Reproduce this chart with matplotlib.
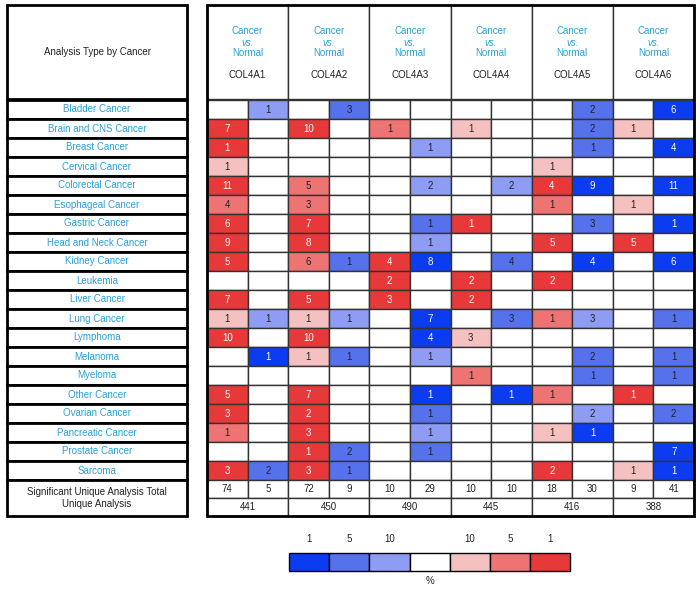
import matplotlib
matplotlib.use("Agg")
import matplotlib.pyplot as plt
from matplotlib.patches import Rectangle

plt.rcParams['font.family'] = ['Liberation Sans', 'DejaVu Sans']

cancers = ["Bladder Cancer", "Brain and CNS Cancer", "Breast Cancer", "Cervical Cancer",
           "Colorectal Cancer", "Esophageal Cancer", "Gastric Cancer", "Head and Neck Cancer",
           "Kidney Cancer", "Leukemia", "Liver Cancer", "Lung Cancer", "Lymphoma", "Melanoma",
           "Myeloma", "Other Cancer", "Ovarian Cancer", "Pancreatic Cancer", "Prostate Cancer",
           "Sarcoma"]
genes = ["COL4A1", "COL4A2", "COL4A3", "COL4A4", "COL4A5", "COL4A6"]

# 12 sub-columns: (up, down) for each gene; None = empty
counts = [
    [None, 1, None, 3, None, None, None, None, None, 2, None, 6],
    [7, None, 10, None, 1, None, 1, None, None, 2, 1, None],
    [1, None, None, None, None, 1, None, None, None, 1, None, 4],
    [1, None, None, None, None, None, None, None, 1, None, None, None],
    [11, None, 5, None, None, 2, None, 2, 4, 9, None, 11],
    [4, None, 3, None, None, None, None, None, 1, None, 1, None],
    [6, None, 7, None, None, 1, 1, None, None, 3, None, 1],
    [9, None, 8, None, None, 1, None, None, 5, None, 5, None],
    [5, None, 6, 1, 4, 8, None, 4, None, 4, None, 6],
    [None, None, None, None, 2, None, 2, None, 2, None, None, None],
    [7, None, 5, None, 3, None, 2, None, None, None, None, None],
    [1, 1, 1, 1, None, 7, None, 3, 1, 3, None, 1],
    [10, None, 10, None, None, 4, 3, None, None, None, None, None],
    [None, 1, 1, 1, None, 1, None, None, None, 2, None, 1],
    [None, None, None, None, None, None, 1, None, None, 1, None, 1],
    [5, None, 7, None, None, 1, None, 1, 1, None, 1, None],
    [3, None, 2, None, None, 1, None, None, None, 2, None, 2],
    [1, None, 3, None, None, 1, None, None, 1, 1, None, None],
    [None, None, 1, 2, None, 1, None, None, None, None, None, 7],
    [3, 2, 3, 1, None, None, None, None, 2, None, 1, 1],
]
# colour level: 3/2/1 = red top 1%/5%/10%, -3/-2/-1 = blue top 1%/5%/10%, 0 = none
levels = [
    [0, -1, 0, -2, 0, 0, 0, 0, 0, -2, 0, -3],
    [3, 0, 3, 0, 2, 0, 1, 0, 0, -2, 1, 0],
    [3, 0, 0, 0, 0, -1, 0, 0, 0, -2, 0, -3],
    [1, 0, 0, 0, 0, 0, 0, 0, 1, 0, 0, 0],
    [3, 0, 2, 0, 0, -1, 0, -1, 3, -3, 0, -3],
    [2, 0, 2, 0, 0, 0, 0, 0, 2, 0, 1, 0],
    [3, 0, 3, 0, 0, -2, 3, 0, 0, -2, 0, -3],
    [3, 0, 3, 0, 0, -1, 0, 0, 3, 0, 3, 0],
    [3, 0, 2, -2, 3, -3, 0, -2, 0, -3, 0, -3],
    [0, 0, 0, 0, 3, 0, 3, 0, 3, 0, 0, 0],
    [3, 0, 3, 0, 3, 0, 3, 0, 0, 0, 0, 0],
    [1, -1, 1, -1, 0, -3, 0, -2, 2, -1, 0, -2],
    [3, 0, 3, 0, 0, -3, 1, 0, 0, 0, 0, 0],
    [0, -3, 1, -2, 0, -1, 0, 0, 0, -2, 0, -2],
    [0, 0, 0, 0, 0, 0, 2, 0, 0, -2, 0, -2],
    [3, 0, 3, 0, 0, -3, 0, -3, 2, 0, 3, 0],
    [3, 0, 3, 0, 0, -2, 0, 0, 0, -1, 0, -2],
    [2, 0, 3, 0, 0, -1, 0, 0, 1, -3, 0, 0],
    [0, 0, 3, -2, 0, -2, 0, 0, 0, 0, 0, -3],
    [3, -2, 3, -2, 0, 0, 0, 0, 3, 0, 1, -3],
]
sig_counts = [74, 5, 72, 9, 10, 29, 10, 10, 18, 30, 9, 41]
totals = [441, 450, 490, 445, 416, 388]
legend_labels = ["1", "5", "10", "", "10", "5", "1"]
legend_levels = [-3, -2, -1, 0, 1, 2, 3]

colors = {-3: "#0b3cf0", -2: "#5572ec", -1: "#8f9cf4", 0: "#ffffff",
          1: "#f4c0c0", 2: "#ee7474", 3: "#e8393a"}
link_blue = "#2ba0d8"
dark = "#222222"

fig = plt.figure(figsize=(7.0, 5.89), dpi=100)
ax = fig.add_axes([0, 0, 1, 1])
ax.set_xlim(0, 700)
ax.set_ylim(589, 0)
ax.axis("off")

# geometry
LX0, LX1 = 7, 187
RX0, RX1 = 207, 694
TOP, HEAD_B = 5, 99
ROW_H = 19.0
nrows = len(cancers)
rows_b = HEAD_B + 1 + nrows * ROW_H
SUM_H = 18.0
TOT_B = rows_b + 2 * SUM_H
gw = (RX1 - RX0) / len(genes)
sw = gw / 2

# ---- left table
ax.add_patch(Rectangle((LX0, TOP), LX1 - LX0, HEAD_B - TOP, fc="white", ec="black", lw=2))
ax.text((LX0 + LX1) / 2, (TOP + HEAD_B) / 2, "Analysis Type by Cancer", ha="center",
        va="center", fontsize=7, color=dark)
for i, name in enumerate(cancers):
    y0 = HEAD_B + 1 + i * ROW_H
    ax.add_patch(Rectangle((LX0, y0), LX1 - LX0, ROW_H, fc="white", ec="black", lw=2))
    ax.text((LX0 + LX1) / 2, y0 + ROW_H / 2, name, ha="center", va="center",
            fontsize=7, color=link_blue)
ax.add_patch(Rectangle((LX0, rows_b), LX1 - LX0, TOT_B - rows_b, fc="white", ec="black", lw=2))
ax.text((LX0 + LX1) / 2, (rows_b + TOT_B) / 2,
        "Significant Unique Analysis Total\nUnique Analysis", ha="center", va="center",
        fontsize=7, color=dark, linespacing=1.2)

# ---- right table header
for g, gene in enumerate(genes):
    x0 = RX0 + g * gw
    ax.add_patch(Rectangle((x0, TOP), gw, HEAD_B - TOP, fc="white", ec="#333333", lw=1))
    cx = x0 + gw / 2
    ax.text(cx, 30.5, "Cancer", ha="center", va="center", fontsize=7, color=link_blue)
    ax.text(cx, 42.5, "vs.", ha="center", va="center", fontsize=7, color=link_blue,
            style="italic")
    ax.text(cx, 52.5, "Normal", ha="center", va="center", fontsize=7, color=link_blue)
    ax.text(cx, 75, gene, ha="center", va="center", fontsize=7, color=dark)

# ---- cells
for i in range(nrows):
    y0 = HEAD_B + 1 + i * ROW_H
    for j in range(12):
        x0 = RX0 + j * sw
        lv = levels[i][j]
        ax.add_patch(Rectangle((x0, y0), sw, ROW_H, fc=colors[lv], ec="#333333", lw=1))
        v = counts[i][j]
        if v is not None:
            tc = "white" if abs(lv) == 3 else dark
            ax.text(x0 + sw / 2, y0 + ROW_H / 2 + 0.5, str(v), ha="center", va="center",
                    fontsize=7, color=tc)

# summary rows
for j, v in enumerate(sig_counts):
    x0 = RX0 + j * sw
    ax.add_patch(Rectangle((x0, rows_b), sw, SUM_H, fc="white", ec="#333333", lw=1))
    ax.text(x0 + sw / 2, rows_b + SUM_H / 2 + 0.5, str(v), ha="center", va="center",
            fontsize=7, color=dark)
for g, v in enumerate(totals):
    x0 = RX0 + g * gw
    ax.add_patch(Rectangle((x0, rows_b + SUM_H), gw, SUM_H, fc="white", ec="#333333", lw=1))
    ax.text(x0 + gw / 2, rows_b + 1.5 * SUM_H + 0.5, str(v), ha="center", va="center",
            fontsize=7, color=dark)

# outer border of right table
ax.add_patch(Rectangle((RX0, TOP), RX1 - RX0, TOT_B - TOP, fc="none", ec="black", lw=2))

# ---- legend
LG_X0, LG_W, LG_Y0, LG_H = 289, 40.2, 553, 18
for k, (lab, lv) in enumerate(zip(legend_labels, legend_levels)):
    x0 = LG_X0 + k * LG_W
    ax.add_patch(Rectangle((x0, LG_Y0), LG_W, LG_H, fc=colors[lv], ec="black", lw=1))
    ax.text(x0 + LG_W / 2, 539, lab, ha="center", va="center", fontsize=7, color=dark)
ax.text(LG_X0 + 3.5 * LG_W, 581, "%", ha="center", va="center", fontsize=7, color=dark)

fig.savefig("out.png", dpi=100)
